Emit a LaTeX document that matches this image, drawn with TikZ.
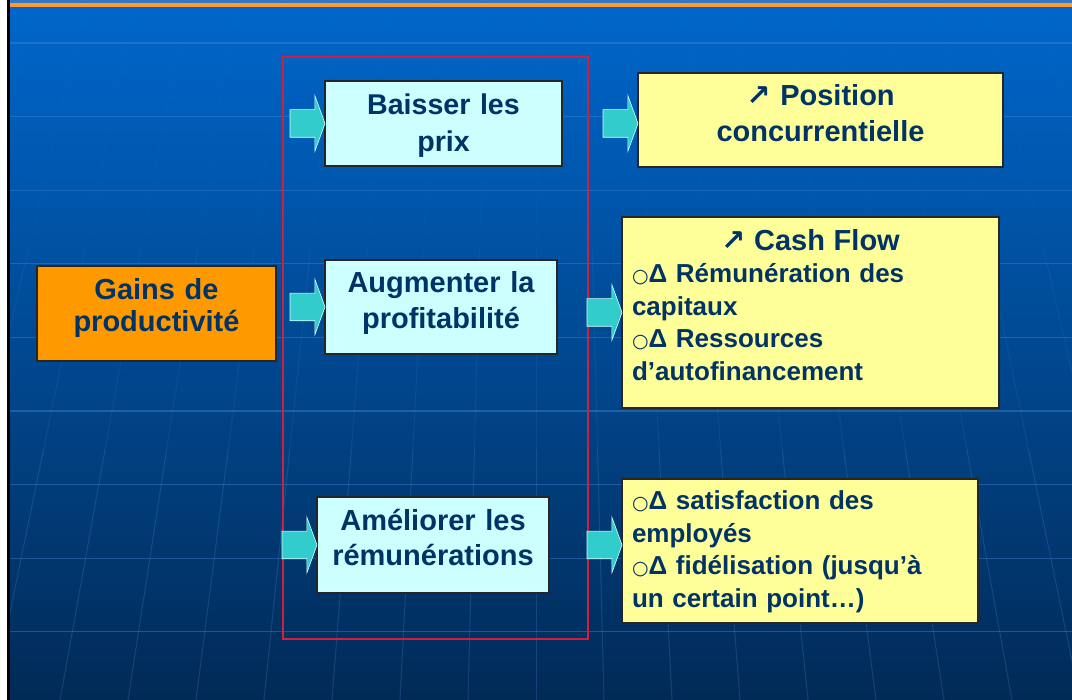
\documentclass[tikz,border=0pt]{standalone}
\usepackage{fontspec}
\setmainfont{Liberation Sans}
\newfontfamily\flechefont{DejaVu Sans}
\usepackage{tikz}
\usetikzlibrary{shapes.arrows, positioning, calc}

\definecolor{fondhaut}{HTML}{0067CC}
\definecolor{fondbas}{HTML}{012A56}
\definecolor{marine}{HTML}{003366}
\definecolor{cyanclair}{HTML}{CCFFFF}
\definecolor{jaune}{HTML}{FFFF99}
\definecolor{orangeboite}{HTML}{FF9900}
\definecolor{turquoise}{HTML}{33CCCC}
\definecolor{cadrerouge}{HTML}{D02040}
\definecolor{grille}{HTML}{4A8AD8}
\definecolor{bandeau}{HTML}{FF9933}
\definecolor{liseret}{HTML}{3378C4}

\newcommand{\puce}{{\flechefont\mdseries\fontsize{19}{19}\selectfont ○}}
\newcommand{\hausse}{{\flechefont ↗}}

\begin{document}
\begin{tikzpicture}[x=1pt,y=-1pt,every node/.style={outer sep=0pt,text=marine}]
\tikzstyle{boite}=[draw=black!85,line width=1.1pt,inner xsep=10pt,inner ysep=0pt,align=center,text height=21pt]
\tikzstyle{action}=[boite,fill=cyanclair,minimum width=232pt,text width=212pt,font=\fontsize{29}{36}\selectfont\bfseries]
\tikzstyle{effet}=[boite,fill=jaune]
\tikzstyle{fleche}=[single arrow,fill=turquoise,draw=cyanclair!80,line width=0.6pt,
  single arrow head extend=14pt,single arrow tip angle=140,inner sep=13.5pt,minimum height=35pt,anchor=tip]
\tikzstyle{ligne}=[grille,line width=1.2pt,opacity=0.4]
\tikzstyle{meridien}=[grille,line width=1pt]

\useasboundingbox (0,0) rectangle (1072,700);
\fill[top color=fondhaut,bottom color=fondbas] (0,0) rectangle (1072,700);

\begin{scope}
\clip (10,7) rectangle (1072,700);
\foreach \k in {-10,...,10}
  \foreach \ya/\yb/\op in {0/250/0.05,250/450/0.13,450/700/0.25}
    \draw[meridien,opacity=\op] ({536+\k*(50+18*\ya/700)},\ya) -- ({536+\k*(50+18*\yb/700)},\yb);
\foreach \k in {0,...,8}
  \draw[ligne] (10,{43+73.6*\k}) -- (1072,{43+73.6*\k});
\end{scope}

\fill[white] (0,0) rectangle (7,700);
\fill[black] (7,0) rectangle (10,700);
\fill[liseret] (10,0) rectangle (1072,3);
\fill[bandeau] (10,3) rectangle (1072,7);

\draw[cadrerouge,line width=1.2pt] (283,57) rectangle (588,639);

\node (gains) [boite,fill=orangeboite,minimum width=239pt,minimum height=95pt,text width=219pt,text depth=48pt,
  font=\fontsize{29}{32}\selectfont\bfseries] at (156.5,313.5) {Gains de\\productivité};

\node (baisser) [action,minimum width=237pt,minimum height=85pt,text depth=38pt,font=\fontsize{28.6}{37}\selectfont\bfseries] at (443.5,123.5) {Baisser les\\prix};
\node (augmenter) [action,minimum height=94pt,text depth=49pt] at (441,307) {Augmenter la\\profitabilité};
\node (ameliorer) [action,minimum height=96pt,text depth=49.6pt,font=\fontsize{29}{35}\selectfont\bfseries] at (433,545) {Améliorer les\\rémunérations};

\node (position) [effet,minimum width=365pt,minimum height=94pt,text width=345pt,text depth=49.6pt,
  font=\fontsize{29}{36}\selectfont\bfseries] at (820.5,120) {\hausse{} Position\\concurrentielle};
\node (cash) [effet,align=left,minimum width=377pt,minimum height=191pt,text width=357pt,text depth=145pt,
  font=\fontsize{26}{32.5}\selectfont\bfseries] at (810.5,312.5)
  {\makebox[357pt]{\fontsize{29}{32.5}\selectfont\hausse{} Cash Flow}\\
   \puce Δ Rémunération des\\capitaux\\
   \puce Δ Ressources\\d’autofinancement};
\node (satisf) [effet,align=left,minimum width=356pt,minimum height=144pt,text width=336pt,text depth=103pt,
  font=\fontsize{26}{32.5}\selectfont\bfseries] at (800,551)
  {\puce Δ satisfaction des\\employés\\
   \puce Δ fidélisation (jusqu’à\\un certain point…)};

\node (f1) [fleche] at (baisser.west) {};
\node (f2) [fleche] at (baisser.east -| position.west) {};
\node (f3) [fleche] at (augmenter.west) {};
\node (f4) [fleche] at (cash.west) {};
\node (f5) [fleche] at (ameliorer.west) {};
\node (f6) [fleche] at (ameliorer.east -| satisf.west) {};
\end{tikzpicture}
\end{document}
